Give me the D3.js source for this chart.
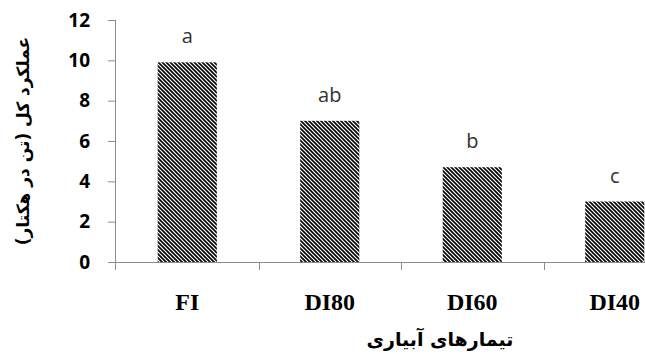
<!DOCTYPE html>
<html>
<head>
<meta charset="utf-8">
<script src="https://cdn.jsdelivr.net/npm/d3@7"></script>
<style>
  body { margin: 0; background: #fff; }
  svg { display: block; }
</style>
</head>
<body>
<svg id="chart"></svg>
<script>
const categories = ['FI', 'DI80', 'DI60', 'DI40'];
const yieldValues = [9.9, 7.0, 4.7, 3.0];
const groupLetters = ['a', 'ab', 'b', 'c'];
const yTicks = [0, 2, 4, 6, 8, 10, 12];

const width = 645, height = 354;
const margin = { top: 20, right: -41, bottom: 92, left: 116 };

const svg = d3.select('#chart')
  .attr('width', width)
  .attr('height', height);

const defs = svg.append('defs');
const pattern = defs.append('pattern')
  .attr('id', 'hatch')
  .attr('patternUnits', 'userSpaceOnUse')
  .attr('width', 4)
  .attr('height', 4);
pattern.append('rect').attr('width', 4).attr('height', 4).attr('fill', '#fff');
pattern.append('path')
  .attr('d', 'M-1,-1 L5,5 M-1,3 L1,5 M3,-1 L5,1')
  .attr('stroke', '#000')
  .attr('stroke-width', 1.6);

const x = d3.scaleBand()
  .domain(categories)
  .range([margin.left, width - margin.right])
  .paddingInner(0.585)
  .paddingOuter(0.2925);

const y = d3.scaleLinear()
  .domain([0, 12])
  .range([height - margin.bottom, margin.top]);

const axisColor = '#8c8c8c';

// bars
svg.selectAll('.bar')
  .data(categories)
  .enter()
  .append('rect')
  .attr('class', 'bar')
  .attr('x', d => x(d))
  .attr('width', x.bandwidth())
  .attr('y', (d, i) => y(yieldValues[i]))
  .attr('height', (d, i) => y(0) - y(yieldValues[i]))
  .attr('fill', 'url(#hatch)');

// significance letters
svg.selectAll('.letter')
  .data(categories)
  .enter()
  .append('text')
  .attr('x', d => x(d) + x.bandwidth() / 2)
  .attr('y', (d, i) => y(yieldValues[i]) - 19)
  .attr('text-anchor', 'middle')
  .style('font-family', '"Open Sans", sans-serif')
  .style('font-size', '20px')
  .style('fill', '#333')
  .text((d, i) => groupLetters[i]);

// y axis
const yAxis = svg.append('g')
  .attr('transform', `translate(${margin.left},0)`)
  .call(d3.axisLeft(y).tickValues(yTicks).tickSize(8).tickPadding(18));
yAxis.select('.domain').attr('stroke', axisColor).attr('d', `M-0.5,${margin.top}V${y(0) + 8}`);
yAxis.selectAll('.tick line').attr('stroke', axisColor);
yAxis.selectAll('.tick text')
  .style('font-family', '"Open Sans", sans-serif')
  .style('font-weight', 'bold')
  .style('font-size', '19px')
  .style('fill', '#000');

// x axis with ticks at band boundaries
const step = x.step();
const boundaries = d3.range(categories.length + 1).map(i => margin.left + i * step);
const xg = svg.append('g');
xg.append('line')
  .attr('x1', margin.left).attr('x2', width)
  .attr('y1', y(0) + 0.5).attr('y2', y(0) + 0.5)
  .attr('stroke', axisColor);
xg.selectAll('.xtick')
  .data(boundaries.slice(1))
  .enter()
  .append('line')
  .attr('x1', d => Math.round(d) + 0.5).attr('x2', d => Math.round(d) + 0.5)
  .attr('y1', y(0)).attr('y2', y(0) + 8)
  .attr('stroke', axisColor);

xg.selectAll('.xlabel')
  .data(categories)
  .enter()
  .append('text')
  .attr('x', d => x(d) + x.bandwidth() / 2)
  .attr('y', 310)
  .attr('text-anchor', 'middle')
  .style('font-family', '"Liberation Serif", serif')
  .style('font-weight', 'bold')
  .style('font-size', '24px')
  .text(d => d);

// axis titles
svg.append('text')
  .attr('x', 440)
  .attr('y', 346)
  .attr('text-anchor', 'middle')
  .attr('direction', 'rtl')
  .style('font-family', '"DejaVu Sans", sans-serif')
  .style('font-weight', 'bold')
  .style('font-size', '19px')
  .text('تیمارهای آبیاری');

svg.append('text')
  .attr('transform', 'translate(29,141) rotate(-90)')
  .attr('text-anchor', 'middle')
  .attr('direction', 'rtl')
  .style('font-family', '"DejaVu Sans", sans-serif')
  .style('font-weight', 'bold')
  .style('font-size', '17px')
  .text('عملکرد کل (تن در هکتار)');
</script>
</body>
</html>
